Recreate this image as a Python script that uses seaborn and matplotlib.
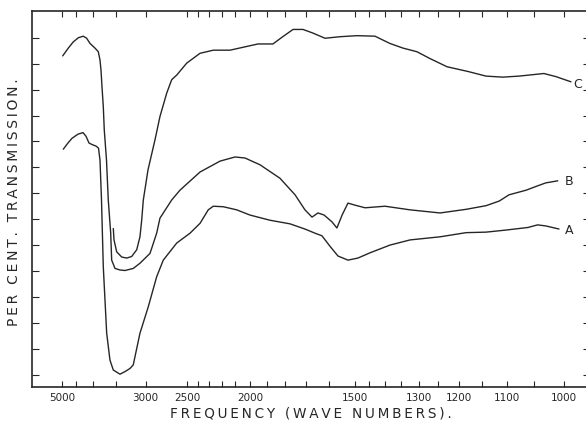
import numpy as np
import pandas as pd
import matplotlib
matplotlib.use("Agg")
import matplotlib.pyplot as plt
import seaborn as sns

# Infrared transmission curves, wave numbers (cm^-1) and per cent transmission
wn_a = [4949, 4772, 4631, 4435, 4283, 4197, 4115, 4035, 3934, 3873, 3838, 3803,
        3762, 3687, 3617, 3549, 3420, 3329, 3243, 3189, 3084, 2963, 2850, 2767,
        2612, 2475, 2381, 2309, 2267, 2188, 2090, 2002, 1882, 1775, 1703, 1658,
        1628, 1595, 1563, 1525, 1489, 1448, 1384, 1325, 1246, 1185, 1142, 1102,
        1061, 1044, 1030, 1008]
t_a = [43.5, 44.7, 45.6, 46.4, 46.7, 46.0, 44.7, 44.4, 44.1, 43.7, 41.4, 33.7,
       20.8, 8.0, 2.8, 0.9, 0.1, 0.6, 1.2, 1.9, 8.0, 13.1, 18.9, 22.1,
       25.4, 27.3, 29.2, 31.8, 32.5, 32.4, 31.8, 30.8, 29.8, 29.1, 28.1, 27.3,
       26.8, 24.8, 22.9, 22.1, 22.5, 23.5, 25.0, 26.0, 26.6, 27.4, 27.5, 27.9,
       28.4, 28.9, 28.7, 28.1]

wn_b = [4972, 4761, 4587, 4425, 4275, 4178, 4088, 3959, 3878, 3838, 3815, 3792,
        3762, 3740, 3691, 3653, 3602, 3582, 3515, 3420, 3329, 3189, 3084, 2939,
        2850, 2808, 2668, 2577, 2381, 2213, 2102, 2034, 1940, 1827, 1750, 1703,
        1671, 1645, 1619, 1587, 1567, 1547, 1525, 1499, 1464, 1399, 1325, 1246,
        1185, 1142, 1115, 1096, 1064, 1047, 1030, 1010]
t_b = [61.5, 63.0, 64.2, 65.0, 65.3, 64.9, 63.9, 63.0, 62.3, 60.7, 58.8, 55.6,
       51.7, 47.2, 41.4, 33.7, 27.3, 22.1, 20.5, 20.2, 20.1, 20.5, 21.5, 23.4,
       27.3, 30.2, 33.7, 35.6, 39.1, 41.2, 42.0, 41.8, 40.5, 37.9, 34.7, 31.8,
       30.4, 31.2, 30.8, 29.5, 28.3, 30.8, 33.1, 32.7, 32.2, 32.5, 31.8, 31.2,
       31.9, 32.6, 33.5, 34.7, 35.6, 36.3, 37.0, 37.4]

wn_c = [3549, 3535, 3482, 3388, 3299, 3215, 3134, 3084, 3058, 3034, 2967, 2872,
        2808, 2726, 2668, 2612, 2508, 2381, 2267, 2138, 1952, 1865, 1816, 1760,
        1712, 1667, 1615, 1555, 1492, 1431, 1384, 1345, 1306, 1272, 1229, 1181,
        1142, 1108, 1077, 1033, 1013, 989]
t_c = [28.2, 26.0, 23.7, 22.7, 22.5, 22.8, 24.1, 26.6, 29.8, 33.7, 39.5, 45.3,
       49.8, 54.3, 56.9, 57.8, 60.1, 62.0, 62.6, 62.6, 63.8, 63.8, 65.1, 66.6,
       66.6, 65.9, 64.9, 65.2, 65.4, 65.3, 63.9, 63.0, 62.3, 61.0, 59.4, 58.5,
       57.6, 57.4, 57.6, 58.1, 57.5, 56.5]

curve_names = ["A", "B", "C"]
label_wn = [998, 998, 986]
label_t = [27.9, 37.2, 55.9]

tick_wn = [5000, 4500, 4000, 3500, 3000, 2500, 2400, 2300, 2200, 2100, 2000,
           1900, 1800, 1700, 1600, 1500, 1450, 1400, 1350, 1300, 1250, 1200,
           1150, 1100, 1050, 1000]
labelled_wn = [5000, 3000, 2500, 2000, 1500, 1300, 1200, 1100, 1000]
t_ticks = list(range(0, 70, 5))

x_title = "FREQUENCY (WAVE NUMBERS)."
y_title = "PER CENT. TRANSMISSION."

df = pd.concat([
    pd.DataFrame({"wn": wn_a, "T": t_a, "sample": "A"}),
    pd.DataFrame({"wn": wn_b, "T": t_b, "sample": "B"}),
    pd.DataFrame({"wn": wn_c, "T": t_c, "sample": "C"}),
], ignore_index=True)

sns.set_style("ticks")
plt.rcParams["font.family"] = ["DejaVu Sans"]

ink = "#262626"

fig = plt.figure(figsize=(5.86, 4.26), dpi=100)
ax = fig.add_axes([0.0541, 0.0923, 0.9527, 0.8819])


def to_micron(w):
    w = np.asarray(w, dtype=float)
    with np.errstate(divide="ignore", invalid="ignore"):
        return 1e4 / w


# spectrometer chart: linear in wavelength, labelled in wave numbers
ax.set_xscale("function", functions=(to_micron, to_micron))

sns.lineplot(data=df, x="wn", y="T", units="sample", estimator=None,
             sort=False, color=ink, linewidth=1.0, ax=ax, legend=False)

for name, w, t in zip(curve_names, label_wn, label_t):
    ax.text(w, t, name, fontsize=9, color=ink, ha="left", va="center")

ax.set_xlim(960.2, 6591)
ax.set_ylim(-2.31, 70.16)

ax.set_xticks(tick_wn)
ax.set_xticklabels([str(w) if w in labelled_wn else "" for w in tick_wn])
ax.xaxis.set_minor_locator(matplotlib.ticker.NullLocator())
ax.set_yticks(t_ticks)
ax.set_yticklabels([])

ax.tick_params(axis="x", which="both", direction="in", length=4.3, width=0.8,
               top=True, bottom=True, labelsize=7.5, pad=4.3, colors=ink)
ax.tick_params(axis="y", which="both", direction="in", length=5, width=0.8,
               left=True, right=True, labelleft=False, colors=ink)

for s in ax.spines.values():
    s.set_visible(True)
    s.set_linewidth(1.2)
    s.set_color(ink)

ax.set_xlabel("")
ax.set_ylabel("")


def spaced(s):
    # widely tracked lettering
    return "\u2009".join(s)


fig.text(311 / 586, (426 - 413.5) / 426, spaced(x_title),
         ha="center", va="center", fontsize=9.8, color=ink)
fig.text(14 / 586, (426 - 202.5) / 426, spaced(y_title),
         rotation=90, ha="center", va="center", fontsize=10, color=ink)

fig.savefig("out.png", dpi=100, facecolor="white")
